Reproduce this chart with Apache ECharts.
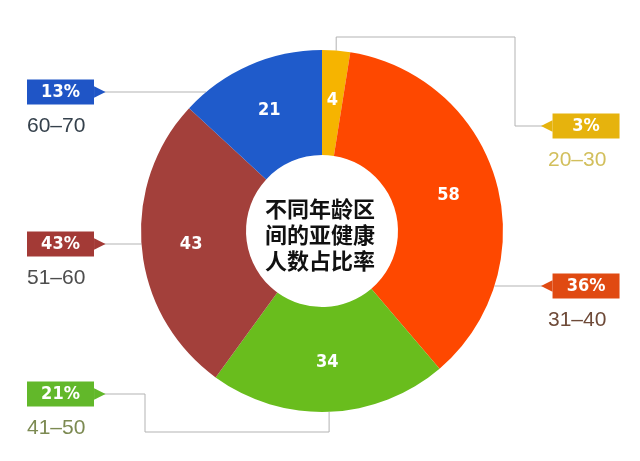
<!DOCTYPE html>
<html><head><meta charset="utf-8">
<script src="https://cdn.jsdelivr.net/npm/echarts@6/dist/echarts.min.js"></script>
<style>html,body{margin:0;padding:0;background:#fff}#c{width:640px;height:461px}</style>
</head><body><div id="c"></div>
<script>
const categories = ['20-30', '31-40', '41-50', '51-60', '60-70'];
const counts = [4, 58, 34, 43, 21];
const percentLabels = ['3%', '36%', '21%', '43%', '13%'];
const centerTitle = '不同年龄区\n间的亚健康\n人数占比率';

const sliceColors = ['#f6b400', '#fe4800', '#69bd1d', '#a3403b', '#1f5bcb'];
const tagColors = ['#e6b30d', '#e04a12', '#62b82a', '#a33a36', '#1f55c6'];
const rangeColors = ['#d2bf5c', '#6e4a38', '#7c8a52', '#4d4d4d', '#35414c'];

// label placement (layout only)
const labelSlots = [
  { side: 'right', tagY: 126, bend: { y: 37, x: 515 } },
  { side: 'right', tagY: 286 },
  { side: 'left', tagY: 394, bend: { y: 432, x: 145 } },
  { side: 'left', tagY: 244 },
  { side: 'left', tagY: 92 }
];
const CX = 322, CY = 231, R_OUT = 181, R_IN = 76;
const LEFT_X = 27, LEFT_TIP = 103, RIGHT_TIP = 543;

const total = counts.reduce((a, b) => a + b, 0);
function midAngle(i) {
  let cum = 0;
  for (let k = 0; k < i; k++) cum += counts[k];
  return (cum + counts[i] / 2) / total * Math.PI * 2;
}

const rich = { rp: { width: 7 } };
categories.forEach((c, i) => {
  rich['t' + i] = {
    width: 67, height: 25, lineHeight: 25, align: 'center',
    backgroundColor: tagColors[i], color: '#fff',
    fontSize: 18, fontWeight: 'bold', fontFamily: 'DejaVu Sans Condensed'
  };
  rich['a' + i] = { color: tagColors[i], fontSize: 15, lineHeight: 25, fontFamily: 'DejaVu Sans' };
  rich['r' + i] = { color: rangeColors[i], fontSize: 21, lineHeight: 44, fontFamily: 'Liberation Sans' };
});

const chart = echarts.init(document.getElementById('c'));
const data = categories.map((c, i) => ({ name: c, value: counts[i], itemStyle: { color: sliceColors[i] } }));

chart.setOption({
  animation: false,
  backgroundColor: '#fff',
  graphic: [{
    type: 'text', left: 'center', top: 196,
    style: {
      text: centerTitle, fill: '#111', align: 'center',
      font: 'bold 22px "Noto Sans CJK SC"', lineHeight: 26
    }
  }],
  series: [
    {
      type: 'pie', center: [CX, CY], radius: [R_IN, R_OUT], startAngle: 90, clockwise: true,
      silent: true, data: data, z: 2,
      label: {
        show: true, position: 'inside', formatter: '{c}', color: '#fff',
        fontSize: 18, fontWeight: 'bold', fontFamily: 'DejaVu Sans Condensed'
      },
      labelLine: { show: false }
    },
    {
      type: 'pie', center: [CX, CY], radius: [R_IN, R_OUT], startAngle: 90, clockwise: true,
      silent: true, avoidLabelOverlap: false, z: 1,
      data: categories.map((c, i) => ({ name: c, value: counts[i] })),
      itemStyle: { color: 'rgba(0,0,0,0)', borderWidth: 0 },
      label: {
        show: true, position: 'outside',
        formatter: p => {
          const i = p.dataIndex, s = labelSlots[i];
          const rng = categories[i].replace('-', '–');
          return s.side === 'left'
            ? `{t${i}|${percentLabels[i]}}{a${i}|▶}\n{r${i}|${rng}}`
            : `{a${i}|◀}{t${i}|${percentLabels[i]}}\n{rp|}{r${i}|${rng}}`;
        },
        rich: rich
      },
      labelLine: { show: true, lineStyle: { color: '#b3b3b3', width: 1 } },
      labelLayout: p => {
        const i = p.dataIndex, s = labelSlots[i];
        const tip = s.side === 'left' ? LEFT_TIP : RIGHT_TIP;
        let pts;
        if (s.bend) {
          const a = midAngle(i);
          const sx = CX + R_OUT * Math.sin(a), sy = CY - R_OUT * Math.cos(a);
          pts = [[sx, sy], [sx, s.bend.y], [s.bend.x, s.bend.y], [s.bend.x, s.tagY], [tip, s.tagY]];
        } else {
          const dy = s.tagY - CY, dx = Math.sqrt(R_OUT * R_OUT - dy * dy);
          const ex = s.side === 'left' ? CX - dx : CX + dx;
          pts = [[ex, s.tagY], [tip, s.tagY]];
        }
        return {
          x: s.side === 'left' ? LEFT_X : RIGHT_TIP - 2, y: s.tagY - 12.5,
          align: 'left', verticalAlign: 'top', labelLinePoints: pts
        };
      }
    }
  ]
});
</script></body></html>
